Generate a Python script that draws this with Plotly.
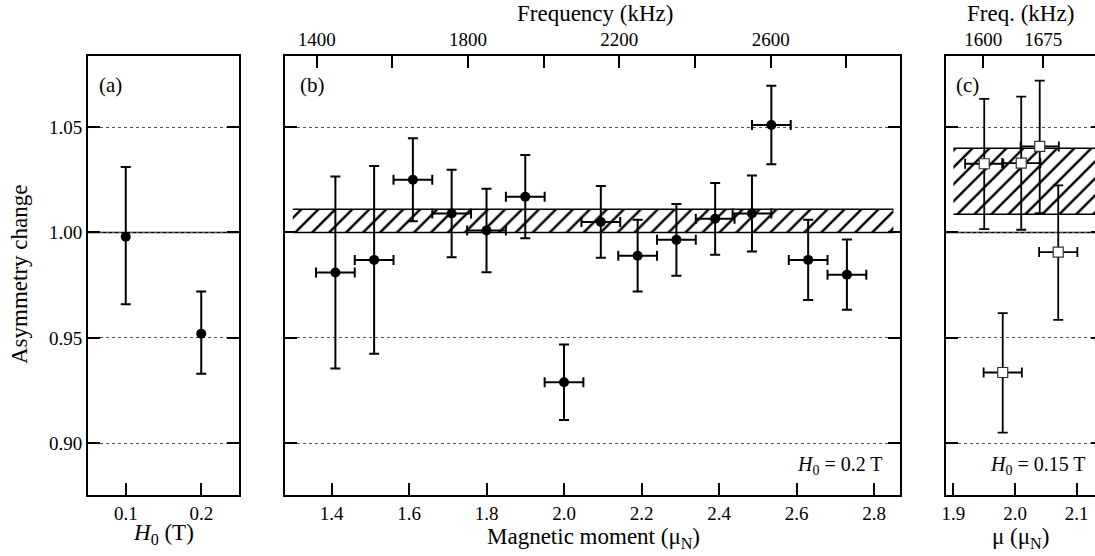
"""Asymmetry change vs field / magnetic moment, three panels."""
import plotly.graph_objects as go

W, H = 1103, 556  # a few px wider than the window so panel (c) runs off the right edge
FONT = "Liberation Serif, Times New Roman, Times, serif"

# panel (a): field dependence
h0_field = [0.1, 0.2]
h0_asym = [0.998, 0.952]
h0_err_plus = [0.033, 0.020]
h0_err_minus = [0.032, 0.019]

# panel (b): H0 = 0.2 T scan
mu_b = [1.41, 1.51, 1.61, 1.71, 1.80, 1.90, 2.00, 2.095, 2.19, 2.29,
        2.39, 2.485, 2.535, 2.63, 2.73]
asym_b = [0.981, 0.987, 1.025, 1.009, 1.001, 1.017, 0.929, 1.005, 0.989, 0.9965,
          1.0065, 1.009, 1.051, 0.987, 0.980]
err_b = [0.0455, 0.0445, 0.0197, 0.0207, 0.0198, 0.0197, 0.0179, 0.017, 0.017, 0.017,
         0.017, 0.018, 0.0186, 0.019, 0.0167]
mu_err_b = 0.05
band_b_x = [1.30, 2.85]
band_b_y = [1.000, 1.011]

# panel (c): H0 = 0.15 T scan
mu_c = [1.95, 2.01, 2.04, 2.07, 1.98]
asym_c = [1.0326, 1.0329, 1.0408, 0.9907, 0.9336]
err_c_plus = [0.0308, 0.0315, 0.0312, 0.0316, 0.0282]
err_c_minus = [0.031, 0.0316, 0.0316, 0.0321, 0.0285]
mu_err_c = 0.031
band_c_x = [1.90, 2.15]
band_c_y = [1.0087, 1.040]

y_ticks = [0.90, 0.95, 1.00, 1.05]
y_range = [0.8755, 1.0837]
baseline = 1.00

freq_b_ticks = [1400, 1600, 1800, 2000, 2200, 2400, 2600, 2800]
freq_b_text = ["1400", "", "1800", "", "2200", "", "2600", ""]
freq_b_range = [1316.2, 2941.8]
freq_c_ticks = [1600, 1675]
freq_c_range = [1553.4, 1749.6]


def px(x):
    return x / W


def py(y):
    return 1 - y / H


def err(arr, minus=None, width=5, thickness=2):
    d = dict(type="data", array=arr, thickness=thickness, width=width, color="black")
    if minus is not None:
        d["symmetric"] = False
        d["arrayminus"] = minus
    return d


def band(x, y, xa, ya):
    traces = [go.Scatter(
        x=[x[0], x[1], x[1], x[0]], y=[y[0], y[0], y[1], y[1]],
        fill="toself", mode="none", fillcolor="white",
        fillpattern=dict(shape="/", fgcolor="black", bgcolor="white", size=12, solidity=0.2),
        xaxis=xa, yaxis=ya, hoverinfo="skip",
    )]
    for v in y:
        traces.append(go.Scatter(
            x=x, y=[v, v], mode="lines", line=dict(color="black", width=1.5),
            xaxis=xa, yaxis=ya, hoverinfo="skip",
        ))
    return traces


fig = go.Figure()

fig.add_trace(go.Scatter(
    x=h0_field, y=h0_asym, mode="markers",
    marker=dict(symbol="circle", size=10, color="black"),
    error_y=err(h0_err_plus, h0_err_minus),
    xaxis="x", yaxis="y",
))

for t in band(band_b_x, band_b_y, "x2", "y2"):
    fig.add_trace(t)
fig.add_trace(go.Scatter(
    x=mu_b, y=asym_b, mode="markers",
    marker=dict(symbol="circle", size=10, color="black"),
    error_y=err(err_b), error_x=err([mu_err_b] * len(mu_b)),
    xaxis="x2", yaxis="y2",
))
fig.add_trace(go.Scatter(x=[], y=[], xaxis="x4", yaxis="y2"))

for t in band(band_c_x, band_c_y, "x3", "y3"):
    fig.add_trace(t)
fig.add_trace(go.Scatter(
    x=mu_c, y=asym_c, mode="markers",
    marker=dict(symbol="square", size=10, color="white", line=dict(color="#333", width=1.2)),
    error_y=err(err_c_plus, err_c_minus, thickness=1.8),
    error_x=err([mu_err_c] * len(mu_c), thickness=1.8),
    xaxis="x3", yaxis="y3",
))
fig.add_trace(go.Scatter(x=[], y=[], xaxis="x5", yaxis="y3"))

tick_font = dict(family=FONT, size=19, color="black")
ax_common = dict(
    ticks="inside", ticklen=12, tickwidth=2, tickcolor="black",
    linecolor="black", linewidth=2, showline=True, zeroline=False,
    tickfont=tick_font, fixedrange=True, automargin=False,
)
y_common = dict(
    ax_common, range=y_range, tickvals=y_ticks, showgrid=True,
    gridcolor="#555", griddash="dot", gridwidth=1,
)
dom_a = [px(88), px(239)]
dom_b = [px(285), px(900)]
dom_c = [px(946), 1.0]
dom_y = [py(495), py(56)]

fig.update_layout(
    template="none",
    width=W, height=H,
    margin=dict(l=0, r=0, t=0, b=0, pad=0),
    paper_bgcolor="white", plot_bgcolor="white",
    showlegend=False,
    font=dict(family=FONT, size=19, color="black"),
    xaxis=dict(ax_common, domain=dom_a, range=[0.05, 0.25], tickvals=h0_field,
               showgrid=False, mirror=True, anchor="y"),
    yaxis=dict(y_common, domain=dom_y, anchor="x", mirror="ticks",
               ticktext=["0.90", "0.95", "1.00", "1.05"]),
    xaxis2=dict(ax_common, domain=dom_b, range=[1.28, 2.867],
                tickvals=[1.4, 1.6, 1.8, 2.0, 2.2, 2.4, 2.6, 2.8],
                ticktext=["1.4", "1.6", "1.8", "2.0", "2.2", "2.4", "2.6", "2.8"],
                showgrid=False, anchor="y2"),
    yaxis2=dict(y_common, domain=dom_y, anchor="x2", mirror="ticks", showticklabels=False),
    xaxis4=dict(ax_common, range=freq_b_range, tickvals=freq_b_ticks, ticktext=freq_b_text,
                overlaying="x2", side="top", anchor="y2", showgrid=False),
    xaxis3=dict(ax_common, domain=dom_c, range=[1.888, 2.1426], tickvals=[1.9, 2.0, 2.1],
                ticktext=["1.9", "2.0", "2.1"], showgrid=False, anchor="y3"),
    yaxis3=dict(y_common, domain=dom_y, anchor="x3", mirror="ticks", showticklabels=False),
    xaxis5=dict(ax_common, range=freq_c_range, tickvals=freq_c_ticks,
                ticktext=[str(v) for v in freq_c_ticks],
                overlaying="x3", side="top", anchor="y3", showgrid=False),
)

# solid reference line at 1.00 in (a) and (c)
for xr, yr in [("x domain", "y"), ("x3 domain", "y3")]:
    fig.add_shape(type="line", xref=xr, yref=yr, x0=0, x1=1, y0=baseline, y1=baseline,
                  line=dict(color="black", width=1.5), layer="below")

notes = [
    ("(a)", 97, 85, "left", 0, 21),
    ("(b)", 298, 85, "left", 0, 21),
    ("(c)", 954, 85, "left", 0, 21),
    ("<i>H</i><sub>0</sub> = 0.2 T", 885, 465, "right", 0, 20),
    ("<i>H</i><sub>0</sub> = 0.15 T", 1088, 465, "right", 0, 20),
    ("Asymmetry change", 19, 275, "center", -90, 23),
    ("<i>H</i><sub>0</sub> (T)", 163, 534, "center", 0, 23),
    ("Magnetic moment (μ<sub>N</sub>)", 593, 538, "center", 0, 23),
    ("μ (μ<sub>N</sub>)", 1020, 538, "center", 0, 23),
    ("Frequency (kHz)", 595, 14, "center", 0, 23),
    ("Freq. (kHz)", 1020, 14, "center", 0, 23),
]
for text, x, y, anchor, angle, size in notes:
    fig.add_annotation(
        text=text, x=px(x), y=py(y), xref="paper", yref="paper",
        xanchor=anchor, yanchor="middle", textangle=angle, showarrow=False,
        font=dict(family=FONT, size=size, color="black"),
    )

# drop the default page margin so the figure sits at the window's corner
fig.write_html(
    "out.html",
    config={"displayModeBar": False},
    post_script="document.body.style.margin = '0';",
)
